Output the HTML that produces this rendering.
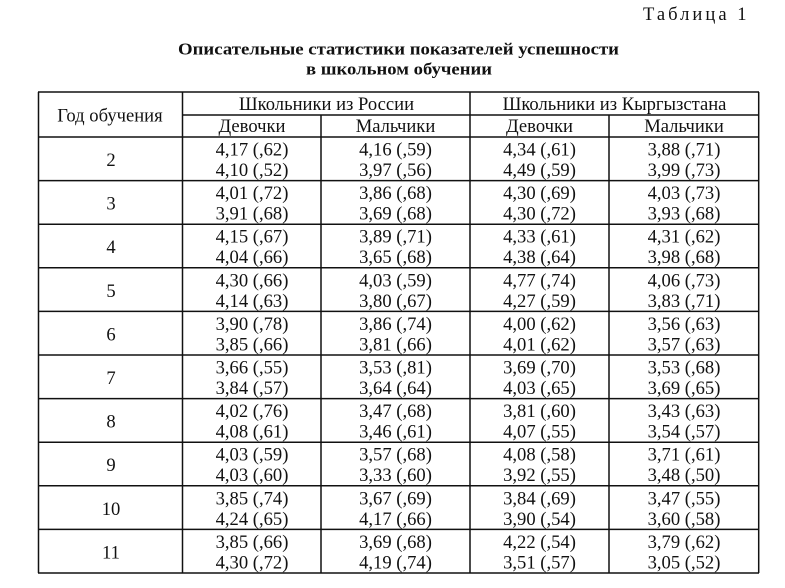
<!DOCTYPE html>
<html><head><meta charset="utf-8"><style>
html,body{margin:0;padding:0;background:#fff;}
svg{display:block;}
text{font-family:"Liberation Serif","Noto Serif CJK SC",serif;fill:#111;}
.d{font-size:18.6px;text-anchor:middle;}
.t{font-size:17px;font-weight:bold;text-anchor:middle;}
</style></head><body>
<svg width="785" height="588" viewBox="0 0 785 588" xmlns="http://www.w3.org/2000/svg">
<rect width="785" height="588" fill="#fff"/>
<text x="643" y="20" style="font-size:18.6px;letter-spacing:3px">Таблица 1</text>
<text class="t" x="398.5" y="54.5" textLength="441" lengthAdjust="spacingAndGlyphs">Описательные статистики показателей успешности</text>
<text class="t" x="399" y="74.5" textLength="186" lengthAdjust="spacingAndGlyphs">в школьном обучении</text>
<g stroke="#111" stroke-width="1.5" fill="none">
<line x1="38" y1="92" x2="759" y2="92"/>
<line x1="183" y1="115" x2="759" y2="115"/>
<line x1="38" y1="137" x2="759" y2="137"/>
<line x1="38" y1="180.6" x2="759" y2="180.6"/>
<line x1="38" y1="224.2" x2="759" y2="224.2"/>
<line x1="38" y1="267.8" x2="759" y2="267.8"/>
<line x1="38" y1="311.4" x2="759" y2="311.4"/>
<line x1="38" y1="355" x2="759" y2="355"/>
<line x1="38" y1="398.6" x2="759" y2="398.6"/>
<line x1="38" y1="442.2" x2="759" y2="442.2"/>
<line x1="38" y1="485.8" x2="759" y2="485.8"/>
<line x1="38" y1="529.4" x2="759" y2="529.4"/>
<line x1="38" y1="573" x2="759" y2="573"/>
<line x1="38.5" y1="92" x2="38.5" y2="573"/>
<line x1="182.5" y1="92" x2="182.5" y2="573"/>
<line x1="321" y1="115" x2="321" y2="573"/>
<line x1="470" y1="92" x2="470" y2="573"/>
<line x1="609" y1="115" x2="609" y2="573"/>
<line x1="758.7" y1="92" x2="758.7" y2="573"/>
</g>
<text class="d" x="110" y="121.5">Год обучения</text>
<text class="d" x="326.5" y="110">Школьники из России</text>
<text class="d" x="614.5" y="110">Школьники из Кыргызстана</text>
<text class="d" x="252" y="132">Девочки</text>
<text class="d" x="395.5" y="132">Мальчики</text>
<text class="d" x="539.5" y="132">Девочки</text>
<text class="d" x="684" y="132">Мальчики</text>

<!-- row 2 top 137 -->
<text class="d" x="111" y="166">2</text>
<text class="d" x="252" y="155.5">4,17 (,62)</text><text class="d" x="395.5" y="155.5">4,16 (,59)</text><text class="d" x="539.5" y="155.5">4,34 (,61)</text><text class="d" x="684" y="155.5">3,88 (,71)</text>
<text class="d" x="252" y="176">4,10 (,52)</text><text class="d" x="395.5" y="176">3,97 (,56)</text><text class="d" x="539.5" y="176">4,49 (,59)</text><text class="d" x="684" y="176">3,99 (,73)</text>

<!-- row 3 top 180.6 -->
<text class="d" x="111" y="209.6">3</text>
<text class="d" x="252" y="199.1">4,01 (,72)</text><text class="d" x="395.5" y="199.1">3,86 (,68)</text><text class="d" x="539.5" y="199.1">4,30 (,69)</text><text class="d" x="684" y="199.1">4,03 (,73)</text>
<text class="d" x="252" y="219.6">3,91 (,68)</text><text class="d" x="395.5" y="219.6">3,69 (,68)</text><text class="d" x="539.5" y="219.6">4,30 (,72)</text><text class="d" x="684" y="219.6">3,93 (,68)</text>

<!-- row 4 top 224.2 -->
<text class="d" x="111" y="253.2">4</text>
<text class="d" x="252" y="242.7">4,15 (,67)</text><text class="d" x="395.5" y="242.7">3,89 (,71)</text><text class="d" x="539.5" y="242.7">4,33 (,61)</text><text class="d" x="684" y="242.7">4,31 (,62)</text>
<text class="d" x="252" y="263.2">4,04 (,66)</text><text class="d" x="395.5" y="263.2">3,65 (,68)</text><text class="d" x="539.5" y="263.2">4,38 (,64)</text><text class="d" x="684" y="263.2">3,98 (,68)</text>

<!-- row 5 top 267.8 -->
<text class="d" x="111" y="296.8">5</text>
<text class="d" x="252" y="286.3">4,30 (,66)</text><text class="d" x="395.5" y="286.3">4,03 (,59)</text><text class="d" x="539.5" y="286.3">4,77 (,74)</text><text class="d" x="684" y="286.3">4,06 (,73)</text>
<text class="d" x="252" y="306.8">4,14 (,63)</text><text class="d" x="395.5" y="306.8">3,80 (,67)</text><text class="d" x="539.5" y="306.8">4,27 (,59)</text><text class="d" x="684" y="306.8">3,83 (,71)</text>

<!-- row 6 top 311.4 -->
<text class="d" x="111" y="340.4">6</text>
<text class="d" x="252" y="329.9">3,90 (,78)</text><text class="d" x="395.5" y="329.9">3,86 (,74)</text><text class="d" x="539.5" y="329.9">4,00 (,62)</text><text class="d" x="684" y="329.9">3,56 (,63)</text>
<text class="d" x="252" y="350.4">3,85 (,66)</text><text class="d" x="395.5" y="350.4">3,81 (,66)</text><text class="d" x="539.5" y="350.4">4,01 (,62)</text><text class="d" x="684" y="350.4">3,57 (,63)</text>

<!-- row 7 top 355 -->
<text class="d" x="111" y="384">7</text>
<text class="d" x="252" y="373.5">3,66 (,55)</text><text class="d" x="395.5" y="373.5">3,53 (,81)</text><text class="d" x="539.5" y="373.5">3,69 (,70)</text><text class="d" x="684" y="373.5">3,53 (,68)</text>
<text class="d" x="252" y="394">3,84 (,57)</text><text class="d" x="395.5" y="394">3,64 (,64)</text><text class="d" x="539.5" y="394">4,03 (,65)</text><text class="d" x="684" y="394">3,69 (,65)</text>

<!-- row 8 top 398.6 -->
<text class="d" x="111" y="427.6">8</text>
<text class="d" x="252" y="417.1">4,02 (,76)</text><text class="d" x="395.5" y="417.1">3,47 (,68)</text><text class="d" x="539.5" y="417.1">3,81 (,60)</text><text class="d" x="684" y="417.1">3,43 (,63)</text>
<text class="d" x="252" y="437.6">4,08 (,61)</text><text class="d" x="395.5" y="437.6">3,46 (,61)</text><text class="d" x="539.5" y="437.6">4,07 (,55)</text><text class="d" x="684" y="437.6">3,54 (,57)</text>

<!-- row 9 top 442.2 -->
<text class="d" x="111" y="471.2">9</text>
<text class="d" x="252" y="460.7">4,03 (,59)</text><text class="d" x="395.5" y="460.7">3,57 (,68)</text><text class="d" x="539.5" y="460.7">4,08 (,58)</text><text class="d" x="684" y="460.7">3,71 (,61)</text>
<text class="d" x="252" y="481.2">4,03 (,60)</text><text class="d" x="395.5" y="481.2">3,33 (,60)</text><text class="d" x="539.5" y="481.2">3,92 (,55)</text><text class="d" x="684" y="481.2">3,48 (,50)</text>

<!-- row 10 top 485.8 -->
<text class="d" x="111" y="514.8">10</text>
<text class="d" x="252" y="504.3">3,85 (,74)</text><text class="d" x="395.5" y="504.3">3,67 (,69)</text><text class="d" x="539.5" y="504.3">3,84 (,69)</text><text class="d" x="684" y="504.3">3,47 (,55)</text>
<text class="d" x="252" y="524.8">4,24 (,65)</text><text class="d" x="395.5" y="524.8">4,17 (,66)</text><text class="d" x="539.5" y="524.8">3,90 (,54)</text><text class="d" x="684" y="524.8">3,60 (,58)</text>

<!-- row 11 top 529.4 -->
<text class="d" x="111" y="558.4">11</text>
<text class="d" x="252" y="547.9">3,85 (,66)</text><text class="d" x="395.5" y="547.9">3,69 (,68)</text><text class="d" x="539.5" y="547.9">4,22 (,54)</text><text class="d" x="684" y="547.9">3,79 (,62)</text>
<text class="d" x="252" y="568.4">4,30 (,72)</text><text class="d" x="395.5" y="568.4">4,19 (,74)</text><text class="d" x="539.5" y="568.4">3,51 (,57)</text><text class="d" x="684" y="568.4">3,05 (,52)</text>
</svg>
</body></html>
